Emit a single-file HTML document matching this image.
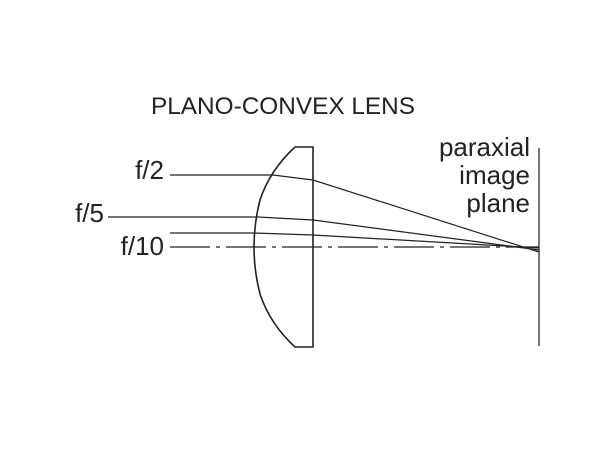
<!DOCTYPE html>
<html><head><style>body{margin:0;background:#fff}</style></head><body>
<svg width="600" height="449" xmlns="http://www.w3.org/2000/svg" style="display:block">
<g font-family="Liberation Sans, sans-serif" fill="#222">
<text x="283" y="114" text-anchor="middle" font-size="24.5" textLength="264" lengthAdjust="spacingAndGlyphs">PLANO-CONVEX LENS</text>
<g font-size="26">
<text x="164" y="179" text-anchor="end">f/2</text>
<text x="104" y="222" text-anchor="end">f/5</text>
<text x="164" y="255" text-anchor="end">f/10</text>
<text x="530" y="156" text-anchor="end">paraxial</text>
<text x="530" y="184" text-anchor="end">image</text>
<text x="530" y="212" text-anchor="end">plane</text>
</g>
</g>
<g fill="none" stroke="#222" stroke-width="1.2">
<path d="M313,147 L295,147 Q270,170 260,200 Q248,247 260,294 Q270,324 295,347 L313,347 Z" stroke-width="1.6"/>
<line x1="539" y1="148" x2="539" y2="346" stroke="#777" stroke-width="2"/>
<polyline points="170,175 273,175 313,180 539,252"/>
<polyline points="108,217 258,217 313,220 539,250"/>
<polyline points="170,233 253,233 313,235 539,248"/>
<line x1="170" y1="247" x2="539" y2="247" stroke-dasharray="40,6,4,6"/>
</g>
</svg>
</body></html>
